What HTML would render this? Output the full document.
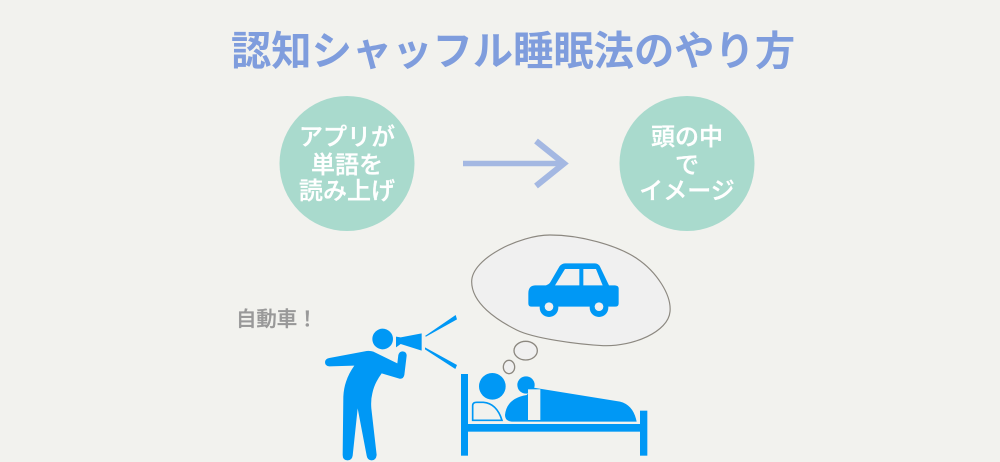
<!DOCTYPE html>
<html lang="ja"><head><meta charset="utf-8"><style>
html,body{margin:0;padding:0;background:#f2f2ee}
svg{display:block}
text{font-family:"Liberation Sans","Noto Sans CJK JP",sans-serif;font-weight:700}
.m{font-weight:500;stroke-width:.35}
</style></head><body>
<svg xmlns="http://www.w3.org/2000/svg" width="1000" height="462" viewBox="0 0 1000 462">
<rect width="1000" height="462" fill="#f2f2ee"/>
<text x="231" y="65" font-size="40.300" fill="#7f9ddd">認知シャッフル睡眠法のやり方</text>
<circle cx="347" cy="163.500" r="67.500" fill="#a9dacd"/>
<circle cx="687" cy="163.500" r="67.500" fill="#a9dacd"/>
<g font-size="24" fill="#fff" stroke="#fff" text-anchor="middle">
<text class="m" x="347" y="145">アプリが</text>
<text class="m" x="347" y="173">単語を</text>
<text class="m" x="347" y="199">読み上げ</text>
<text class="m" x="687" y="145">頭の中</text>
<text class="m" x="687" y="173">で</text>
<text class="m" x="687" y="199">イメージ</text>
</g>
<path d="M463 163.500H563" stroke="#a4b8e2" stroke-width="5.500" fill="none"/>
<path d="M536 141L564 163.500L536 186" stroke="#a4b8e2" stroke-width="6" fill="none"/>
<text class="m" x="236" y="326" font-size="20.400" fill="#999" stroke="#999">自動車！</text>
<g transform="translate(460,225) scale(.33333)">
<path d="M35 170C35 100 180 30 270 30C360 30 470 60 530 100C590 140 635 210 630 260C625 320 520 365 430 362C350 358 220 340 170 315C110 285 35 235 35 170Z" fill="#f0f0f0" stroke="#8c8880" stroke-width="3.500"/>
<path d="M205 205Q205 182 225 181L258 181Q268 178 272 170L298 125Q305 115 315 115L405 115Q415 115 420 125L447 181L465 181Q476 182 476 190L476 235Q476 245 465 245L215 245Q205 245 205 235Z" fill="#0098f5"/>
<path d="M285 181L315 132L358 132L358 181ZM370 132L408 132L428 181L370 181Z" fill="#f0f0f0"/>
<circle cx="267" cy="248" r="28" fill="#0098f5"/><circle cx="267" cy="245" r="13" fill="#f0f0f0"/>
<circle cx="417" cy="248" r="28" fill="#0098f5"/><circle cx="417" cy="245" r="13" fill="#f0f0f0"/>
</g>
<g transform="translate(310,300) scale(.33333)" fill="#0098f5">
<circle cx="218" cy="117" r="31"/>
<path d="M258 110L272 112L335 100L335 152L272 132L258 142Z"/>
<path d="M345 108L437 45L441 58L348 110Z"/>
<path d="M345 142L441 195L436 207L345 148Z"/>
<path d="M58 174L170 153Q182 152 190 155L262 190L265 165Q268 154 278 154Q290 155 290 167L283 225Q280 238 268 236L215 220Q193 250 187 280Q182 300 184 325L200 465Q198 481 185 481Q172 481 170 467L143 325L128 467Q126 481 113 481Q98 481 98 465L100 290Q102 240 133 197L58 199Q45 198 45 186Q46 176 58 174Z"/>
</g>
<g transform="translate(450,340) scale(.33333)">
<ellipse cx="227" cy="32" rx="35" ry="28" fill="#f0f0f0" stroke="#8c8880" stroke-width="4"/>
<ellipse cx="177" cy="81" rx="17" ry="20" fill="#f0f0f0" stroke="#8c8880" stroke-width="4"/>
<g fill="#0098f5">
<rect x="33" y="102" width="21" height="245"/>
<rect x="570" y="212" width="22" height="135"/>
<rect x="54" y="252" width="516" height="23"/>
<circle cx="127" cy="139" r="40"/>
<circle cx="228" cy="135" r="26"/>
<path d="M250 143L510 185Q550 195 560 245L185 245Q165 243 165 225Q170 175 230 165Z"/>
</g>
<path d="M68 241L68 197Q68 187 80 187L100 187Q140 190 156 241Z" fill="#f2f2ee" stroke="#0098f5" stroke-width="5"/>
<rect x="234" y="148" width="37" height="92" fill="#f2f2ee"/>
</g>
</svg>
</body></html>
